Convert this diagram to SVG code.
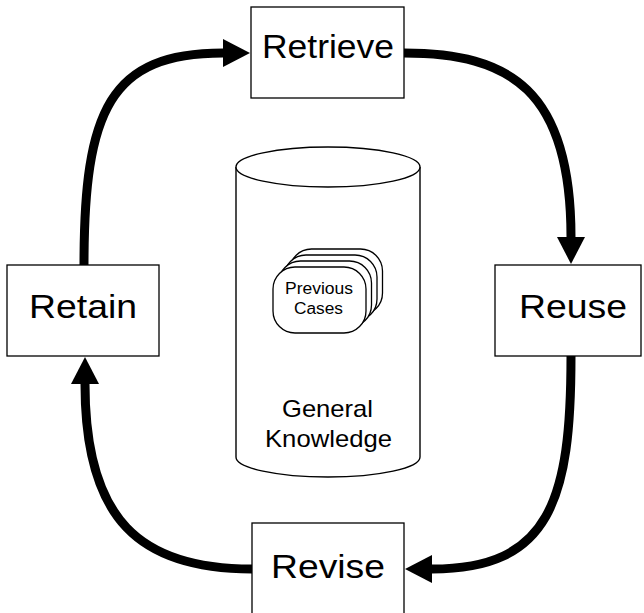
<svg xmlns="http://www.w3.org/2000/svg" width="644" height="613" viewBox="0 0 644 613">
<style>
.box{fill:#fff;stroke:#000;stroke-width:1.3}
.lbl{font-family:"Liberation Sans",Arial,sans-serif;font-size:34px;fill:#000;text-anchor:middle}
.cyl{fill:#fff;stroke:#000;stroke-width:1.4}
.card{fill:#fff;stroke:#000;stroke-width:1.3}
.sm{font-family:"Liberation Sans",Arial,sans-serif;font-size:16px;fill:#000;text-anchor:middle}
.md{font-family:"Liberation Sans",Arial,sans-serif;font-size:24px;fill:#000;text-anchor:middle}
.conn{fill:none;stroke:#000;stroke-width:9;marker-end:url(#ah)}
</style>
<defs>
<marker id="ah" markerUnits="userSpaceOnUse" markerWidth="28" markerHeight="30" refX="0" refY="14" orient="auto" overflow="visible">
<path d="M0,0 L27,14 L0,28 z" fill="#000"/>
</marker>
</defs>
<rect width="644" height="613" fill="#fff"/>
<g id="knowledge">
<path class="cyl" d="M236,167 L236,457 A92,20 0 0 0 420,457 L420,167"/>
<ellipse class="cyl" cx="328" cy="167" rx="92" ry="20"/>
<rect class="card" x="289.5" y="249" width="93" height="66" rx="22" ry="22"/>
<rect class="card" x="284" y="255" width="93" height="66" rx="22" ry="22"/>
<rect class="card" x="278.5" y="261" width="93" height="66" rx="22" ry="22"/>
<rect class="card" x="273" y="267" width="93" height="66" rx="22" ry="22"/>
<text class="sm" x="319" y="294" textLength="68" lengthAdjust="spacingAndGlyphs">Previous</text>
<text class="sm" x="318.5" y="314" textLength="49" lengthAdjust="spacingAndGlyphs">Cases</text>
<text class="md" x="327.5" y="417" textLength="91" lengthAdjust="spacingAndGlyphs">General</text>
<text class="md" x="328.5" y="447" textLength="127" lengthAdjust="spacingAndGlyphs">Knowledge</text>
</g>
<g id="connectors">
<path class="conn" d="M84,265 C84,110 110,53 223,53"/>
<path class="conn" d="M404,53 C510,53 571,90 571,237"/>
<path class="conn" d="M571,356 C571,500 550,569 432,569"/>
<path class="conn" d="M252,569 C140,569 85,520 85,384"/>
</g>
<g id="retrieve">
<rect class="box" x="251" y="7" width="153" height="91"/>
<text class="lbl" x="328" y="58" textLength="132" lengthAdjust="spacingAndGlyphs">Retrieve</text>
</g>
<g id="retain">
<rect class="box" x="7" y="265" width="152" height="91"/>
<text class="lbl" x="83" y="318" textLength="108" lengthAdjust="spacingAndGlyphs">Retain</text>
</g>
<g id="reuse">
<rect class="box" x="495" y="265" width="146" height="91"/>
<text class="lbl" x="573" y="318" textLength="108" lengthAdjust="spacingAndGlyphs">Reuse</text>
</g>
<g id="revise">
<rect class="box" x="252" y="523" width="152" height="95"/>
<text class="lbl" x="328" y="578" textLength="114" lengthAdjust="spacingAndGlyphs">Revise</text>
</g>
</svg>
